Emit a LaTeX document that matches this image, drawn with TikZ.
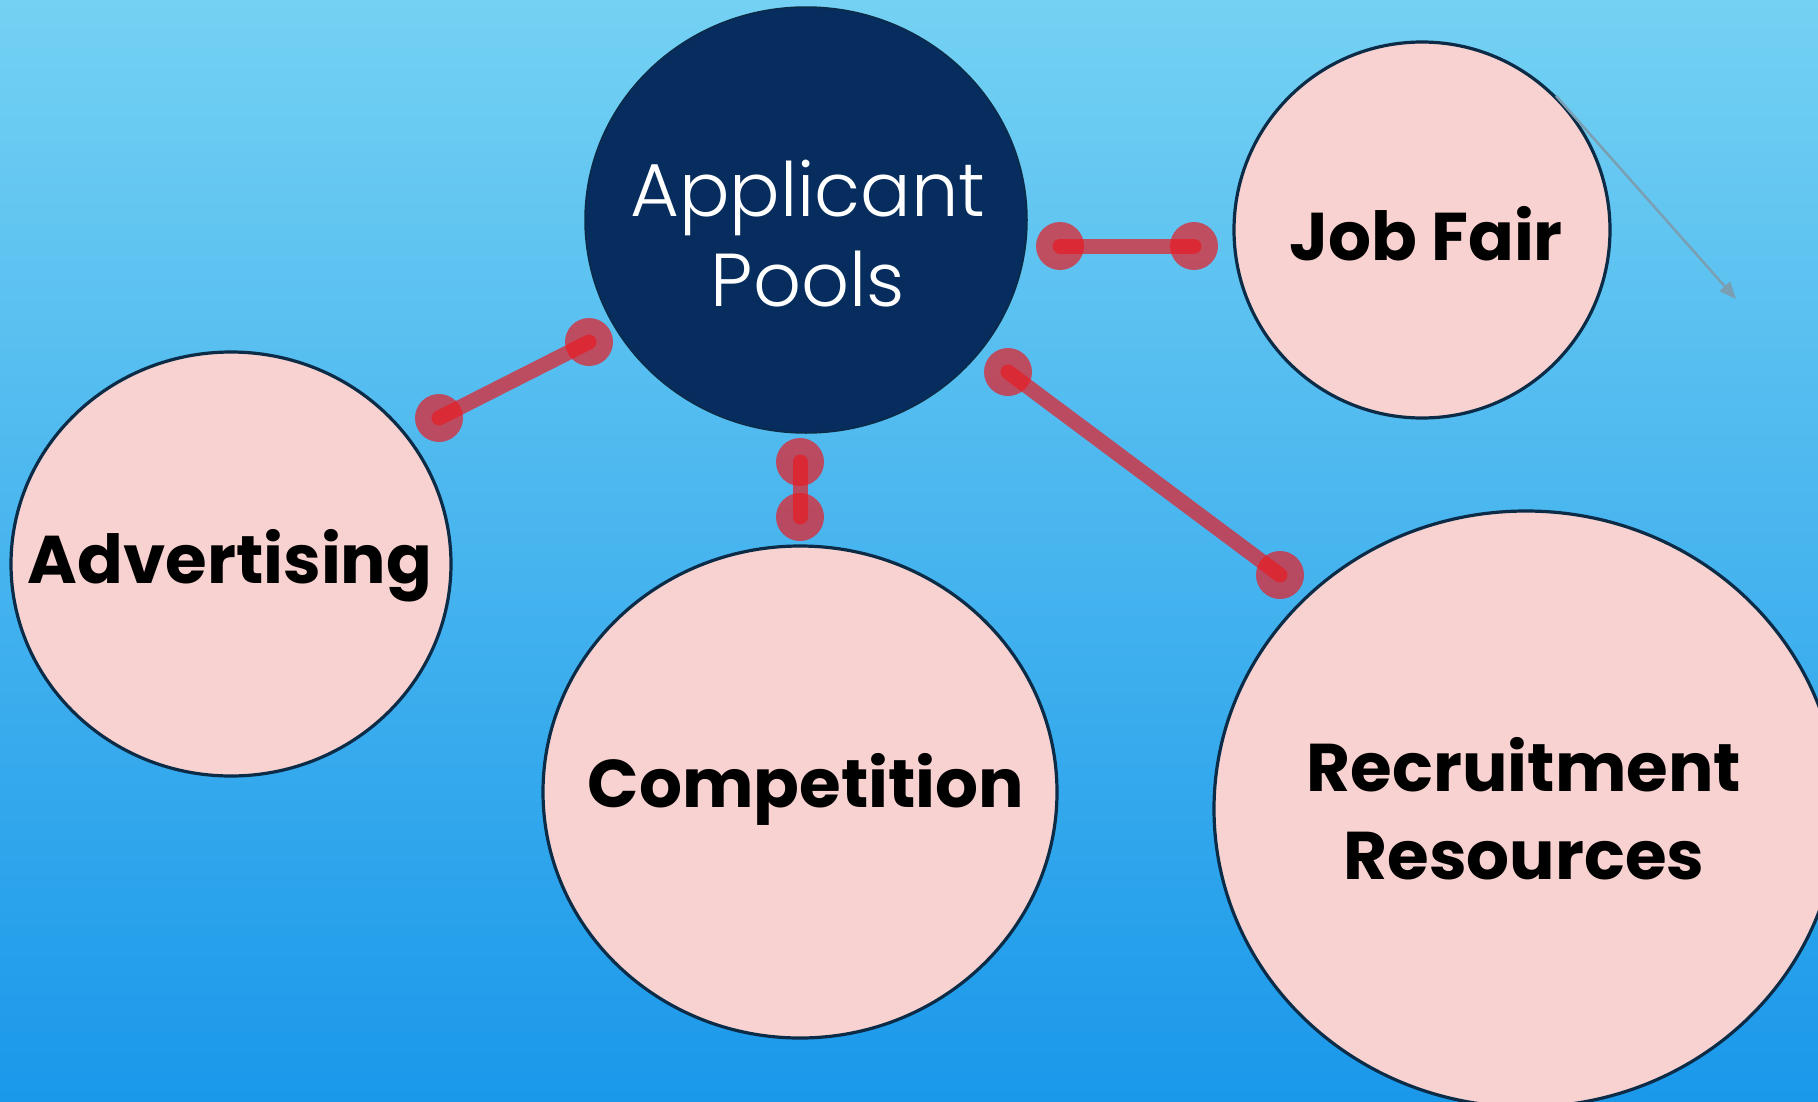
\documentclass[tikz,border=0pt]{standalone}
\usepackage{fontspec}
\setmainfont{Poppins}
\IfFontExistsTF{Poppins Light}{\newfontfamily\thinfont{Poppins Light}}{\newfontfamily\thinfont{Poppins}}
\usetikzlibrary{shapes.geometric,arrows.meta}
\definecolor{skytop}{HTML}{74D1F3}
\definecolor{skybot}{HTML}{1A98EA}
\definecolor{navy}{HTML}{062D5E}
\definecolor{rim}{HTML}{0B2B47}
\definecolor{blush}{HTML}{F7D2D0}
\definecolor{linkred}{HTML}{E81C24}
\definecolor{pointer}{HTML}{7A9FB2}
\begin{document}
\begin{tikzpicture}[x=1pt,y=-1pt,
  bubble/.style={ellipse, draw=rim, line width=3.2pt, fill=blush, inner sep=0pt},
  hub/.style={ellipse, draw=rim, line width=1.5pt, fill=navy, inner sep=0pt},
  boldlabel/.style={inner sep=0pt, align=center, text=black,
    font=\fontsize{67.5}{88}\selectfont\bfseries},
  thinlabel/.style={inner sep=0pt, align=center, text=white,
    font=\fontsize{75}{90}\selectfont\thinfont},
  link/.style={draw=linkred, opacity=0.7, line width=15pt, line cap=round},
  knob/.style={circle, fill=linkred, opacity=0.7, minimum size=48pt, inner sep=0pt},
]
\useasboundingbox (0,0) rectangle (1818,1101);
\fill[top color=skytop, bottom color=skybot] (0,0) rectangle (1818,1101);
\clip (0,0) rectangle (1818,1101);

% bubbles
\node[hub, minimum width=442pt, minimum height=426pt] (pools) at (806,220) {};
\node[bubble, minimum width=376pt, minimum height=376pt] (jobfair) at (1422,230) {};
\node[bubble, minimum width=440pt, minimum height=424pt] (advert) at (231,564) {};
\node[bubble, minimum width=514pt, minimum height=492pt] (compet) at (800,792) {};
\node[bubble, minimum width=624pt, minimum height=596pt] (recruit) at (1526,809) {};

% labels
\node[thinlabel] (poolstext) at (808,234) {Applicant\\Pools};
\node[boldlabel] (jobfairtext) at (1426,234) {Job Fair};
\node[boldlabel] (adverttext) at (230,566) {Advertising};
\node[boldlabel] (compettext) at (806,789) {Competition};
\node[boldlabel] (recruittext) at (1524,809) {Recruitment\\Resources};

% links: a bar with a round knob at each end
\node[knob] (j1) at (1060,246) {};
\node[knob] (j2) at (1194,246) {};
\draw[link] (j1.center) -- (j2.center);

\node[knob] (a1) at (439,418) {};
\node[knob] (a2) at (589,342) {};
\draw[link] (a1.center) -- (a2.center);

\node[knob] (c1) at (800,462) {};
\node[knob] (c2) at (800,517) {};
\draw[link] (c1.center) -- (c2.center);

\node[knob] (r1) at (1008,372) {};
\node[knob] (r2) at (1280,575) {};
\draw[link] (r1.center) -- (r2.center);

% thin pointer leaving the job fair bubble
\coordinate (tip) at (1736,299);
\draw[pointer, line width=2.5pt, -{Triangle[length=17pt,width=14pt]}] (jobfair.45) -- (tip);
\end{tikzpicture}
\end{document}
